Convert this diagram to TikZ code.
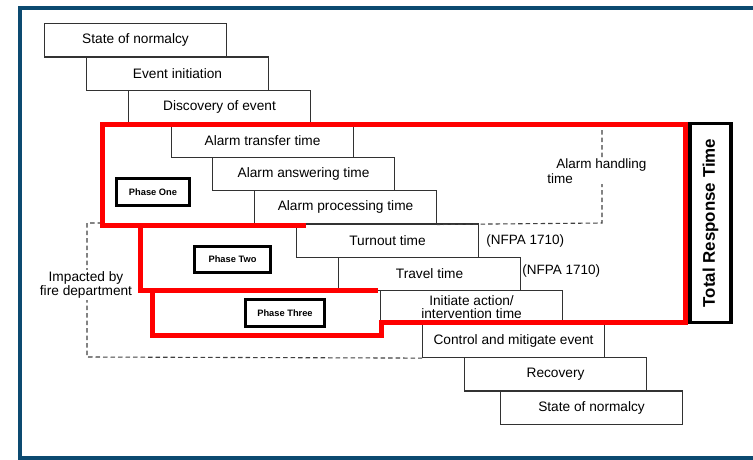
\documentclass[tikz,border=0pt]{standalone}
\usepackage{fontspec}
\setmainfont{Liberation Sans}
\usetikzlibrary{positioning}
\definecolor{frameblue}{RGB}{12,74,112}
\definecolor{boxline}{RGB}{50,50,50}
\begin{document}
\begin{tikzpicture}[x=1pt, y=-1pt,
		stepbox/.style={draw=boxline, line width=1.1pt, fill=white, anchor=north west,
			minimum width=182pt, minimum height=33.4pt, inner sep=0pt, align=center,
			font=\fontsize{13.7}{13}\selectfont},
		plain/.style={inner sep=1pt, font=\fontsize{13.5}{15}\selectfont},
		phasebox/.style={draw=black, line width=3pt, fill=white, inner sep=0pt,
			font=\fontsize{9.3}{10}\selectfont\bfseries},
		bracket/.style={draw=black!75, line width=1.1pt, dash pattern=on 4.5pt off 3pt},
		phaseline/.style={draw=red, line width=5pt, line join=miter}]
	\useasboundingbox (0,0) rectangle (753,459);
	% outer frame
	\draw[frameblue, line width=4pt] (19.5,8) rectangle (800,458);
	\newcommand{\stepBox}[4]{
		% draws one stage of the timeline
		% args:
		%     left edge
		%     row (top to bottom)
		%     node name
		%     label
		\node[stepbox] (#3) at (#1, 23 + #2*33.4) {#4};
	}
	%
	% the stages
	\stepBox{44}{0}{normal}{State of normalcy}
	\stepBox{86}{1}{initiation}{Event initiation}
	\stepBox{128}{2}{discovery}{Discovery of event}
	\stepBox{171}{3}{transfer}{Alarm transfer time}
	\stepBox{212}{4}{answering}{Alarm answering time}
	\stepBox{254}{5}{processing}{Alarm processing time}
	\stepBox{296}{6}{turnout}{Turnout time}
	\stepBox{338}{7}{travel}{Travel time}
	\stepBox{380}{8}{initiate}{Initiate action/\\intervention time}
	\stepBox{422}{9}{control}{Control and mitigate event}
	\stepBox{464}{10}{recovery}{Recovery}
	\stepBox{500}{11}{normalagain}{State of normalcy}
	% standards
	\node[plain, right=6pt of turnout] (nfpaturnout) {(NFPA 1710)};
	\node[plain, right=0pt of travel, yshift=3pt] (nfpatravel) {(NFPA 1710)};
	% alarm handling bracket
	\coordinate (ahtop) at (602,130);
	\coordinate (ahcorner) at (602,223);
	\draw[bracket] (ahtop) -- (ahcorner) -- (processing.south east);
	\node[plain, fill=white, align=left] (handling) at (597,171) {\hspace{9pt}Alarm handling\\time};
	% fire department bracket
	\coordinate (fdtop) at (87,223);
	\coordinate (fdbottom) at (87,357);
	\draw[bracket] (102,223) -- (fdtop) -- (fdbottom) -- (control.south west);
	\node[plain, fill=white, align=center, font=\fontsize{13.7}{14.5}\selectfont] (firedept) at (86,285) {Impacted by\\fire department};
	%
	% the three phases
	\draw[phaseline] (102.5,124.5) -- (685,124.5) -- (685,322.5) -- (381,322.5) -- (381,335.5)
		-- (152,335.5) -- (152,290.5) -- (140,290.5) -- (140,225) -- (102.5,225) -- cycle;
	\draw[phaseline] (140,225) -- (306,225);
	\draw[phaseline] (152,290.5) -- (378,290.5);
	\node[phasebox, minimum width=73pt, minimum height=27pt] (phaseone) at (153,192) {Phase One};
	\node[phasebox, minimum width=76pt, minimum height=26pt] (phasetwo) at (232.5,259.5) {Phase Two};
	\node[phasebox, minimum width=79pt, minimum height=27pt] (phasethree) at (285,313) {Phase Three};
	% total
	\node[draw=black, line width=3.5pt, rotate=90, minimum width=199pt, minimum height=41pt,
		inner sep=0pt, font=\fontsize{16.9}{18}\selectfont\bfseries] (total) at (710.5,223) {Total Response Time};
\end{tikzpicture}
\end{document}
